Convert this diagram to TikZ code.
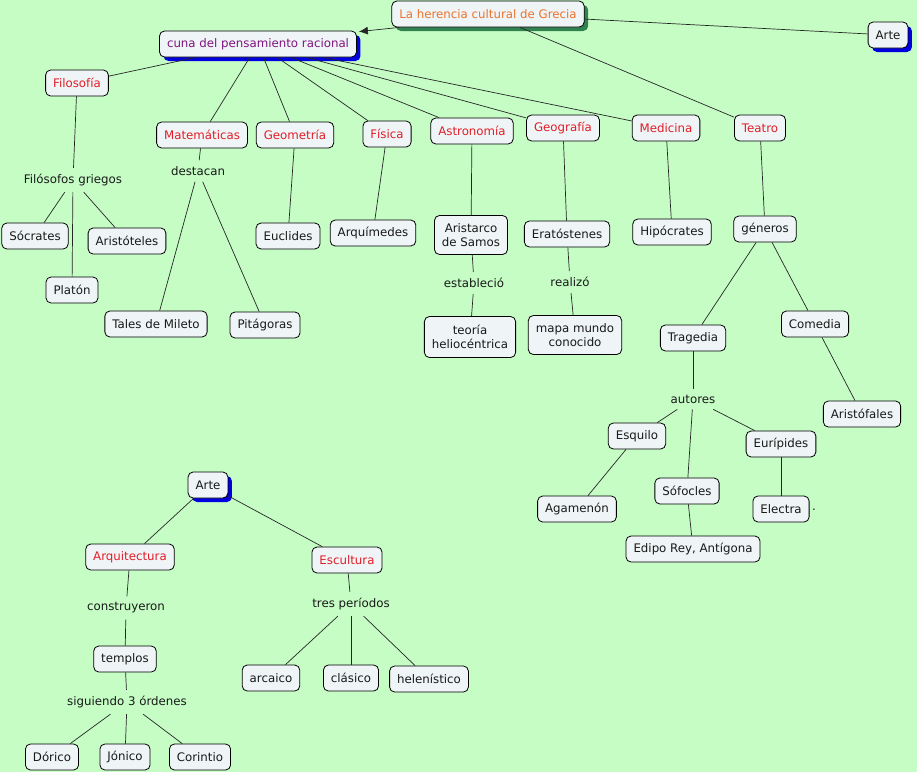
\documentclass[tikz,border=0pt]{standalone}
\usepackage{fontspec}
\setmainfont{DejaVu Sans}
\usetikzlibrary{shadows,arrows.meta}
\definecolor{bg}{RGB}{197,253,197}
\definecolor{boxfill}{RGB}{239,244,246}
\definecolor{txt}{RGB}{25,25,25}
\definecolor{catred}{RGB}{225,30,40}
\definecolor{orangetxt}{RGB}{235,115,45}
\definecolor{purpletxt}{RGB}{128,20,128}
\definecolor{shgreen}{RGB}{50,130,80}
\definecolor{shblue}{RGB}{0,0,225}
\begin{document}
\begin{tikzpicture}[x=1pt,y=-1pt,
  font=\fontsize{11.8}{14}\selectfont,
  box/.style={draw=black, line width=0.8pt, rounded corners=5pt, fill=boxfill,
    inner xsep=7.5pt, inner ysep=0pt, minimum height=26pt, text=txt, align=center},
  cat/.style={box, text=catred},
  bshadow/.style={drop shadow={shadow xshift=4pt, shadow yshift=-4pt, fill=shblue, opacity=1}},
  gshadow/.style={drop shadow={shadow xshift=4pt, shadow yshift=-4pt, fill=shgreen, opacity=1}},
  lbl/.style={inner xsep=3pt, inner ysep=6pt, text=txt},
  conn/.style={draw=black!85, line width=0.7pt}]
\fill[bg] (0,0) rectangle (917,772);
\useasboundingbox (0,0) rectangle (917,772);

% top level
\node[box, gshadow, text=orangetxt] (herencia) at (488,14) {La herencia cultural de Grecia};
\node[box, bshadow, text=purpletxt] (cuna) at (258,44) {cuna del pensamiento racional};
\node[box, bshadow] (arteA) at (888,35) {Arte};

% categories
\node[cat] (filo) at (77,83) {Filosofía};
\node[cat] (mate) at (202,135) {Matemáticas};
\node[cat] (geom) at (295,135) {Geometría};
\node[cat] (fisi) at (387,134) {Física};
\node[cat] (astr) at (472,131) {Astronomía};
\node[cat] (geog) at (563,128) {Geografía};
\node[cat] (medi) at (666,128) {Medicina};
\node[cat] (teat) at (760,128) {Teatro};

% filosofia
\node[lbl] (filgr) at (73,180) {Filósofos griegos};
\node[box] (socr) at (35,236) {Sócrates};
\node[box] (aris) at (127,241) {Aristóteles};
\node[box] (plat) at (72,290) {Platón};

% matematicas
\node[lbl] (dest) at (198,171) {destacan};
\node[box] (tales) at (156,324) {Tales de Mileto};
\node[box] (pita) at (265,325) {Pitágoras};

\node[box] (eucl) at (288,236) {Euclides};
\node[box] (arqu) at (373,233) {Arquímedes};

% astronomia
\node[box, minimum height=39pt] (arist) at (471,235) {Aristarco\\de Samos};
\node[lbl] (estab) at (474,283) {estableció};
\node[box, minimum height=41pt] (teor) at (470,337) {teoría\\heliocéntrica};

% geografia
\node[box] (erat) at (567,234) {Eratóstenes};
\node[lbl] (real) at (570,282) {realizó};
\node[box, minimum height=39pt] (mapa) at (575,335) {mapa mundo\\conocido};

\node[box] (hipo) at (672,232) {Hipócrates};

% teatro
\node[box] (gene) at (765,229) {géneros};
\node[box] (trag) at (693,338) {Tragedia};
\node[box] (come) at (815,324) {Comedia};
\node[lbl] (auto) at (693,399) {autores};
\node[box] (arfa) at (862,414) {Aristófales};
\node[box] (esqu) at (637,436) {Esquilo};
\node[box] (euri) at (781,444) {Eurípides};
\node[box] (sofo) at (687,491) {Sófocles};
\node[box] (agam) at (577,509) {Agamenón};
\node[box] (elec) at (781,509) {Electra};
\node[text=txt, inner sep=0pt] (punto) at (814,510) {.};
\node[box] (edip) at (693,549) {Edipo Rey, Antígona};

% arte
\node[box, bshadow] (arteB) at (208,485) {Arte};
\node[cat] (arqt) at (130,557) {Arquitectura};
\node[cat] (escu) at (347,560) {Escultura};
\node[lbl] (cons) at (126,608) {construyeron};
\node[box] (temp) at (125,659) {templos};
\node[lbl] (sigu) at (127,702) {siguiendo 3 órdenes};
\node[box] (dori) at (52,757) {Dórico};
\node[box] (joni) at (125,757) {Jónico};
\node[box] (cori) at (200,757) {Corintio};
\node[lbl] (tres) at (351,604) {tres períodos};
\node[box] (arca) at (271,678) {arcaico};
\node[box] (clas) at (351,678) {clásico};
\node[box] (hele) at (429,679) {helenístico};

% connectors
\draw[conn, -{Latex[length=9pt,width=8pt]}] ([xshift=8pt]herencia.south west) -- ([xshift=2pt,yshift=-1pt]cuna.north east);
\draw[conn] (herencia) -- (arteA);
\draw[conn] (herencia) -- (teat);
\foreach \c in {filo,mate,geom,fisi,astr,geog,medi} \draw[conn] (cuna) -- (\c);

\draw[conn] (filo) -- (filgr);
\draw[conn] (filgr) -- (socr);
\draw[conn] (filgr) -- (plat);
\draw[conn] (filgr) -- (aris);

\draw[conn] (mate) -- (dest);
\draw[conn] (dest) -- (tales);
\draw[conn] (dest) -- (pita);
\draw[conn] (geom) -- (eucl);
\draw[conn] (fisi) -- (arqu);
\draw[conn] (astr) -- (arist);
\draw[conn] (arist) -- (estab);
\draw[conn] (estab) -- (teor);
\draw[conn] (geog) -- (erat);
\draw[conn] (erat) -- (real);
\draw[conn] (real) -- (mapa);
\draw[conn] (medi) -- (hipo);

\draw[conn] (teat) -- (gene);
\draw[conn] (gene) -- (trag);
\draw[conn] (gene) -- (come);
\draw[conn] (trag) -- (auto);
\draw[conn] (come) -- (arfa);
\draw[conn] (auto) -- (esqu);
\draw[conn] (auto) -- (sofo);
\draw[conn] (auto) -- (euri);
\draw[conn] (esqu) -- (agam);
\draw[conn] (sofo) -- (edip);
\draw[conn] (euri) -- (elec);

\draw[conn] (arteB) -- (arqt);
\draw[conn] (arteB) -- (escu);
\draw[conn] (arqt) -- (cons);
\draw[conn] (cons) -- (temp);
\draw[conn] (temp) -- (sigu);
\draw[conn] (sigu) -- (dori);
\draw[conn] (sigu) -- (joni);
\draw[conn] (sigu) -- (cori);
\draw[conn] (escu) -- (tres);
\draw[conn] (tres) -- (arca);
\draw[conn] (tres) -- (clas);
\draw[conn] (tres) -- (hele);
\end{tikzpicture}
\end{document}
